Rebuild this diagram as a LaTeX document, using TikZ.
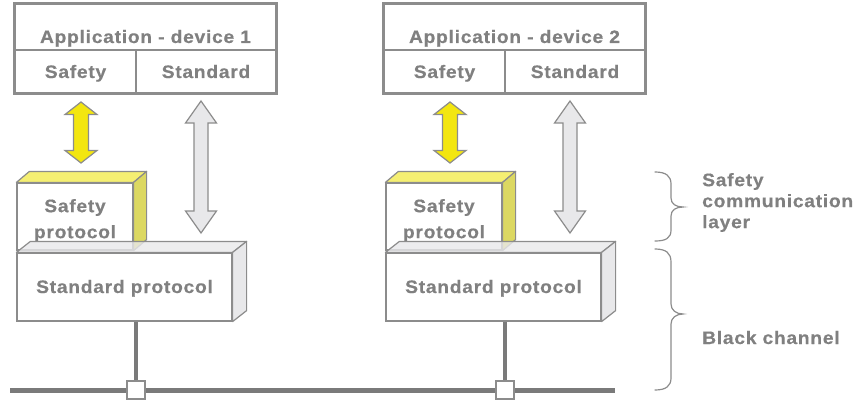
\documentclass[tikz,border=0pt]{standalone}
\usepackage{fontspec}
\newfontfamily\lblfont{Liberation Sans}[LetterSpace=4, FakeStretch=1.07, FakeBold=0.4]
\usetikzlibrary{calc}

\definecolor{txtgray}{HTML}{808080}
\definecolor{edgegray}{HTML}{8C8C8C}
\definecolor{busgray}{HTML}{7A7A7A}
\definecolor{facegray}{HTML}{E8E8EA}
\definecolor{sigyellow}{HTML}{F3E610}
\definecolor{topyellow}{HTML}{F5EF72}
\definecolor{sideyellow}{HTML}{DCD862}

% double-headed block arrow: centre x, top tip y, bottom tip y,
% shaft half width, head half width, head length, fill colour
\newcommand\dblarrow[7]{%
  \filldraw[arrowline, fill=#7]
    ({#1},{#2}) -- ({#1+#5},{#2+#6}) -- ({#1+#4},{#2+#6})
    -- ({#1+#4},{#3-#6}) -- ({#1+#5},{#3-#6}) -- ({#1},{#3})
    -- ({#1-#5},{#3-#6}) -- ({#1-#4},{#3-#6})
    -- ({#1-#4},{#2+#6}) -- ({#1-#5},{#2+#6}) -- cycle;}

\tikzset{
  lbl/.style={font=\lblfont\bfseries\fontsize{18}{26}\selectfont,
    text=txtgray, inner sep=0pt, align=center},
  cell/.style={draw=edgegray, line width=1.5pt, fill=white, inner sep=0pt},
  appframe/.style={draw=edgegray, line width=3pt},
  front/.style={draw=edgegray, line width=1.2pt, fill=white, inner sep=0pt},
  face/.style={draw=edgegray, line width=1.2pt, line join=round},
  arrowline/.style={draw=edgegray, line width=1.2pt, line join=miter},
  bus/.style={draw=busgray, line width=5pt},
  drop/.style={draw=busgray, line width=4pt},
  tap/.style={draw=edgegray, line width=1.2pt, fill=white,
    minimum size=18pt, inner sep=0pt},
  brace/.style={draw=edgegray, line width=1.2pt, line cap=round},
}

\begin{document}
\begin{tikzpicture}[x=1pt, y=-1pt]
\useasboundingbox (0,0) rectangle (861,401);

% field bus
\coordinate (busL) at (10,390);
\coordinate (busR) at (615,390);
\draw[bus] (busL) -- (busR);

\foreach \off/\n in {0/1, 369/2}{
  % application block
  \node[cell, minimum width=261pt, minimum height=46pt] (app\n) at ({145.5+\off},27) {};
  \node[cell, minimum width=121pt, minimum height=43pt] (safc\n) at ({75.5+\off},71.5) {};
  \node[cell, minimum width=140pt, minimum height=43pt] (stdc\n) at ({206+\off},71.5) {};
  \draw[appframe] (app\n.north west) rectangle (stdc\n.south east);
  \node[lbl, anchor=base] (apptxt\n) at ({145.5+\off},43) {Application - device \n};
  \node[lbl, anchor=base] (saftxt\n) at ({75.5+\off},78) {Safety};
  \node[lbl, anchor=base] (stdtxt\n) at ({206+\off},78) {Standard};

  % safety protocol slab
  \node[front, minimum width=116pt, minimum height=67pt] (sp\n) at ({75+\off},216.5) {};
  \draw[face, fill=topyellow] (sp\n.north west) -- ++(13,-11)
    -- ($(sp\n.north east)+(13,-11)$) -- (sp\n.north east) -- cycle;
  \draw[face, fill=sideyellow] (sp\n.north east) -- ++(13,-11)
    -- ($(sp\n.south east)+(13,-11)$) -- (sp\n.south east) -- cycle;
  \node[lbl] (sptxt\n) at ({75+\off},220.5) {Safety\\protocol};

  % standard protocol slab
  \node[front, minimum width=215pt, minimum height=68pt] (std\n) at ({124.5+\off},287) {};
  \draw[face, fill=facegray, fill opacity=0.8] (std\n.north west) -- ++(14,-11)
    -- ($(std\n.north east)+(14,-11)$) -- (std\n.north east) -- cycle;
  \draw[face, fill=facegray] (std\n.north east) -- ++(14,-11)
    -- ($(std\n.south east)+(14,-11)$) -- (std\n.south east) -- cycle;
  \node[lbl, anchor=base] (stdptxt\n) at ({124.5+\off},293) {Standard protocol};

  % bus tap
  \node[tap] (tap\n) at ({136+\off},390) {};
  \draw[drop] (std\n.south -| tap\n) -- (tap\n.north);

  % data exchange arrows
  \dblarrow{81+\off}{102}{163}{7.5}{16}{12.5}{sigyellow}
  \dblarrow{201+\off}{101}{233}{7}{15.5}{22}{facegray}
}

% layer braces
\draw[brace] (655,172) .. controls (666,172) and (671,176) .. (671,184)
  -- (671,198) .. controls (671,204) and (676,207) .. (683,207)
  .. controls (676,207) and (671,210) .. (671,216)
  -- (671,230) .. controls (671,238) and (666,241) .. (655,241);
\draw[brace] (655,249) .. controls (666,249) and (671,253) .. (671,262)
  -- (671,304) .. controls (671,310) and (676,314) .. (683,314)
  .. controls (676,314) and (671,318) .. (671,324)
  -- (671,378) .. controls (671,386) and (666,390) .. (655,390);

\node[lbl, align=left, anchor=west,
  font=\lblfont\bfseries\fontsize{18}{21}\selectfont] (scl) at (702,202.5)
  {Safety\\communication\\layer};
\node[lbl, anchor=base west] (bch) at (702,344) {Black channel};
\end{tikzpicture}
\end{document}
